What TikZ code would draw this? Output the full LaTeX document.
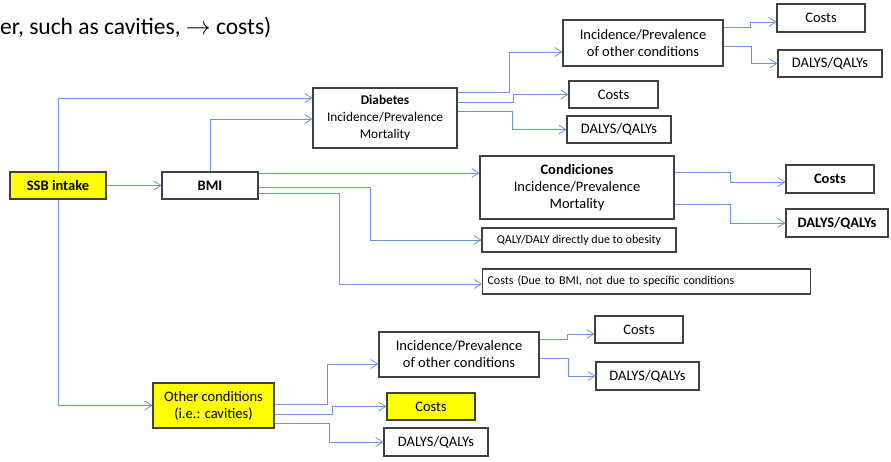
\documentclass[tikz,border=0pt]{standalone}
\usepackage{fontspec}
\setmainfont{Carlito}
\usetikzlibrary{arrows.meta}
\definecolor{lineblue}{RGB}{105,148,222}
\definecolor{boxgray}{RGB}{64,64,64}
\definecolor{ssbyellow}{RGB}{255,255,0}
\begin{document}
\begin{tikzpicture}[x=1pt,y=-1pt,
  box/.style={draw=boxgray,line width=1.1pt,fill=white,inner sep=0pt,align=center,
    font=\fontsize{14.5}{17}\selectfont},
  ybox/.style={box,fill=ssbyellow},
  small/.style={font=\fontsize{12}{14}\selectfont},
  conn/.style={draw=lineblue,line width=0.8pt,-{Straight Barb[length=7pt,width=9pt]}}]
\useasboundingbox (0,0) rectangle (891,461);
\node[anchor=base west,inner sep=0pt,font=\fontsize{23.5}{27}\selectfont] (top) at (0,34) {er, such as cavities, $\rightarrow$ costs)};
% boxes
\node[ybox,minimum width=96pt,minimum height=27pt] (ssb) at (58,185.5) {\textbf{SSB intake}};
\node[box,minimum width=96pt,minimum height=27pt] (bmi) at (210,185.5) {\textbf{BMI}};
\node[box,minimum width=144pt,minimum height=60pt,font=\fontsize{13.3}{17}\selectfont] (dia) at (385,118) {\textbf{Diabetes}\\Incidence/Prevalence\\Mortality};
\node[box,minimum width=89pt,minimum height=27pt] (dcost) at (613.5,94.5) {Costs};
\node[box,minimum width=104pt,minimum height=27pt] (ddaly) at (619,129.5) {DALYS/QALYs};
\node[box,minimum width=160pt,minimum height=46pt] (toc) at (643,43) {Incidence/Prevalence\\of other conditions};
\node[box,minimum width=88pt,minimum height=28pt] (tcost) at (821,18) {Costs};
\node[box,minimum width=104pt,minimum height=27pt] (tdaly) at (830,63.5) {DALYS/QALYs};
\node[box,minimum width=194pt,minimum height=63pt] (cond) at (577,187.5) {\textbf{Condiciones}\\Incidence/Prevalence\\Mortality};
\node[box,minimum width=88pt,minimum height=28pt] (ccost) at (830,179) {\textbf{Costs}};
\node[box,minimum width=102pt,minimum height=28pt] (cdaly) at (837,223) {\textbf{DALYS/QALYs}};
\node[box,small,minimum width=194pt,minimum height=24pt] (qaly) at (579,240) {QALY/DALY directly due to obesity};
\node[box,small,minimum width=328pt,minimum height=25pt,anchor=west,align=left,text width=318pt] (bcost) at (482,281.5) {Costs (Due to BMI, not due to specific conditions};
\node[ybox,minimum width=121pt,minimum height=45pt] (oth) at (213.5,405.5) {Other conditions\\(i.e.: cavities)};
\node[box,minimum width=160pt,minimum height=45pt] (boc) at (459,354.5) {Incidence/Prevalence\\of other conditions};
\node[box,minimum width=88pt,minimum height=27pt] (bcostt) at (639,329.5) {Costs};
\node[box,minimum width=103pt,minimum height=28pt] (bdalyt) at (647.5,376) {DALYS/QALYs};
\node[ybox,minimum width=88pt,minimum height=27pt] (ycost) at (431,406.5) {Costs};
\node[box,minimum width=104pt,minimum height=28pt] (odaly) at (436,442) {DALYS/QALYs};
% connectors
\draw[conn] (ssb.east) -- (bmi.west);
\draw[conn] (ssb.north) |- ([yshift=20pt]dia.west);
\draw[conn] (ssb.south) |- (oth.west);
\draw[conn] (bmi.north) |- ([yshift=-1pt]dia.west);
\draw[conn] ([yshift=12.5pt]bmi.east) -- ([yshift=12.5pt]bmi.east -| cond.west);
\draw[conn] ([yshift=-1.5pt]bmi.east) -- ++(112,0) |- (qaly.west);
\draw[conn] ([yshift=-7.5pt]bmi.east) -- ++(81,0) |- ([yshift=-2.5pt]bcost.west);
\draw[conn] ([yshift=26pt]dia.east) -- ++(52,0) |- ([yshift=-9pt]toc.west);
\draw[conn] ([yshift=16pt]dia.east) -- ++(56,0) |- (dcost.west);
\draw[conn] ([yshift=7pt]dia.east) -- ++(55,0) |- (ddaly.west);
\draw[conn] ([yshift=16pt]toc.east) -- ++(27,0) |- ([yshift=-4pt]tcost.west);
\draw[conn] ([yshift=-3pt]toc.east) -- ++(28,0) |- (tdaly.west);
\draw[conn] ([yshift=15.5pt]cond.east) -- ++(56,0) |- ([yshift=-3pt]ccost.west);
\draw[conn] ([yshift=-16.5pt]cond.east) -- ++(56,0) |- (cdaly.west);
\draw[conn] ([yshift=1.5pt]oth.east) -- ++(53,0) |- ([yshift=-9.5pt]boc.west);
\draw[conn] ([yshift=-8.5pt]oth.east) -- ++(58,0) |- (ycost.west);
\draw[conn] ([yshift=-17.5pt]oth.east) -- ++(55,0) |- (odaly.west);
\draw[conn] ([yshift=15.5pt]boc.east) -- ++(28,0) |- ([yshift=-4.5pt]bcostt.west);
\draw[conn] ([yshift=-3.5pt]boc.east) -- ++(29,0) |- (bdalyt.west);
\end{tikzpicture}
\end{document}
